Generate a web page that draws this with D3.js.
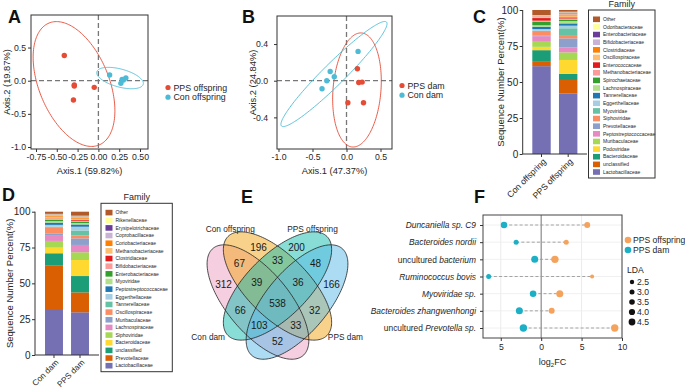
<!DOCTYPE html>
<html>
<head>
<meta charset="utf-8">
<script src="https://cdn.jsdelivr.net/npm/d3@7"></script>
<style>
  body { margin: 0; background: #fff; }
  svg { font-family: "Liberation Sans", Arial, sans-serif; }
</style>
</head>
<body>
<svg id="fig" width="685" height="389"></svg>
<script>
/// data ///

// A: PCoA offspring (Axis.1, Axis.2)
const ppsOffA = [[-0.41, 0.38], [-0.29, -0.065], [-0.29, -0.08], [-0.05, -0.10], [-0.30, -0.29]];
const conOffA = [[0.135, 0.086], [0.27, -0.04], [0.285, 0.02], [0.33, 0.04], [0.30, 0.01]];
// ellipses: centre x, centre y, major axis vector, minor axis vector (data units)
const ellA = [[-0.293, -0.05, 0.30, -0.92, 0.389, 0.20], [0.26, 0.04, 0.279, -0.094, -0.028, -0.131]];

// B: PCoA dams
const ppsDamB = [[0.16, 0.13], [0.18, -0.02], [0.23, -0.015], [0.02, -0.24], [0.25, -0.24]];
const conDamB = [[0.17, 0.32], [-0.24, 0.10], [-0.18, 0.044], [-0.29, 0.0], [-0.36, -0.087]];
const ellB = [[0.154, -0.101, 0.068, 0.622, 0.351, -0.021], [-0.184, 0.073, 0.772, 0.567, 0.113, -0.085]];

// C: family composition, offspring (bottom to top)
const famC = ['Lactobacillaceae', 'unclassified', 'Bacteroidaceae', 'Podoviridae', 'Muribaculaceae',
  'Peptostreptococcaceae', 'Prevotellaceae', 'Siphoviridae', 'Myoviridae', 'Eggerthellaceae',
  'Tannerellaceae', 'Lachnospiraceae', 'Spirochaetaceae', 'Methanobacteriaceae', 'Enterococcaceae',
  'Oscillospiraceae', 'Clostridiaceae', 'Bifidobacteriaceae', 'Enterobacteriaceae', 'Odoribacteraceae', 'Other'];
const samplesC = ['Con offspring', 'PPS offspring'];
const conOffspring = [61, 3.5, 7.6, 2.3, 3.5, 3.9, 0.6, 2.4, 0.8, 1.2, 1.6, 1.0, 2.4, 0.8, 1.8, 0.6, 0.5, 0.4, 0.3, 0.3, 3.5];
const ppsOffspring = [41.9, 9.5, 4.2, 9.7, 5.3, 3.5, 6.2, 2.3, 4.7, 1.8, 1.6, 1.6, 1.0, 0.8, 0.8, 1.2, 0.8, 0.8, 0.6, 0.5, 1.2];

// D: family composition, dams
const famD = ['Lactobacillaceae', 'Prevotellaceae', 'unclassified', 'Bacteroidaceae', 'Siphoviridae',
  'Lachnospiraceae', 'Muribaculaceae', 'Oscillospiraceae', 'Tannerellaceae', 'Eggerthellaceae',
  'Peptostreptococcaceae', 'Myoviridae', 'Enterobacteriaceae', 'Bifidobacteriaceae', 'Clostridiaceae',
  'Methanobacteriaceae', 'Coriobacteriaceae', 'Coprobacillaceae', 'Erysipelotrichaceae', 'Rikenellaceae', 'Other'];
const samplesD = ['Con dam', 'PPS dam'];
const conDam = [31.4, 30.9, 8.7, 3.9, 4.7, 4.1, 1.2, 3.9, 0.8, 1.2, 1.6, 1.0, 1.0, 0.6, 0.3, 1.2, 0.8, 0.4, 0.4, 0.4, 1.5];
const ppsDam = [29.8, 13.9, 11.4, 11.2, 5.4, 5.1, 4.6, 2.0, 3.5, 2.6, 1.6, 1.0, 0.8, 0.8, 0.6, 0.8, 0.6, 0.6, 0.4, 0.5, 2.8];
const pctTicks = [0, 25, 50, 75, 100];

// E: venn
const vennSets = ['Con dam', 'Con offspring', 'PPS offspring', 'PPS dam'];
const vennKeys = ['1000', '0100', '0010', '0001', '1100', '0110', '0011', '1001', '1010', '0101', '1110', '0111', '1011', '1101', '1111'];
const vennCounts = [312, 196, 200, 166, 67, 33, 48, 52, 66, 32, 39, 36, 103, 33, 538];

// F: log2FC / LDA
const species = ['Duncaniella sp. C9', 'Bacteroides nordii', 'uncultured bacterium', 'Ruminococcus bovis',
  'Myoviridae sp.', 'Bacteroides zhangwenhongi', 'uncultured Prevotella sp.'];
const fcOffspring = [5.7, 3.1, 1.7, 6.3, 2.3, 1.3, 9.1];
const fcDam = [-4.6, -3.1, -0.8, -6.5, -1.0, -2.7, -2.2];
const ldaOffspring = [3.8, 3.0, 5.0, 2.2, 4.7, 3.8, 5.0];
const ldaDam = [4.3, 3.0, 4.7, 3.0, 4.3, 4.7, 5.0];
const ldaLegend = [2.5, 3.0, 3.5, 4.0, 4.5];
const fcTicks = [-5, 0, 5, 10];

/// styles ///
const RED = '#e64b35', CYAN = '#4dbbd5';
const ORANGE = '#f5a35c', TEAL = '#1bb0c6';
const INK = '#262626';
const palette = ['#7570b3', '#d95f02', '#1b9e77', '#ffd92f', '#a6d854', '#e78ac3', '#8da0cb', '#fc8d62',
  '#66c2a5', '#a6cee3', '#1f78b4', '#b2df8a', '#33a02c', '#fb9a99', '#e31a1c', '#fdbf6f', '#ff7f00',
  '#cab2d6', '#6a3d9a', '#ffff99', '#b15928'];
const vennFill = ['#eb9fc1', '#f2a516', '#12bbad', '#5ab9e7'];

const svg = d3.select('#fig');

function styleAxis(g, size) {
  g.attr('font-family', null).attr('font-size', size);
  g.select('.domain').remove();
  g.selectAll('line').attr('stroke', '#333');
  g.selectAll('text').attr('fill', INK);
}

function letter(t, x, y) {
  svg.append('text').attr('x', x).attr('y', y).attr('font-size', 18)
    .attr('font-weight', 'bold').attr('fill', '#111').text(t);
}

/// PCoA panels ///
function pcoa(o) {
  const x = d3.scaleLinear().domain(o.xDomain).range([o.left, o.right]);
  const y = d3.scaleLinear().domain(o.yDomain).range([o.bottom, o.top]);
  const g = svg.append('g');

  // dashed zero lines
  g.append('line').attr('x1', x(0)).attr('x2', x(0)).attr('y1', o.top).attr('y2', o.bottom)
    .attr('stroke', '#777').attr('stroke-width', 1.3).attr('stroke-dasharray', '5,3');
  g.append('line').attr('x1', o.left).attr('x2', o.right).attr('y1', y(0)).attr('y2', y(0))
    .attr('stroke', '#777').attr('stroke-width', 1.3).attr('stroke-dasharray', '5,3');

  // confidence ellipses
  const ring = d3.range(0, 2 * Math.PI, Math.PI / 90);
  const line = d3.line().curve(d3.curveLinearClosed);
  o.ellipses.forEach((e, i) => {
    g.append('path')
      .attr('d', line(ring.map(t => [
        x(e[0] + e[2] * Math.cos(t) + e[4] * Math.sin(t)),
        y(e[1] + e[3] * Math.cos(t) + e[5] * Math.sin(t))])))
      .attr('fill', 'none').attr('stroke', o.colors[i]).attr('stroke-width', 0.9);
  });

  // points
  o.groups.forEach((pts, i) => {
    g.append('g').selectAll('circle').data(pts).join('circle')
      .attr('cx', d => x(d[0])).attr('cy', d => y(d[1])).attr('r', 2.7).attr('fill', o.colors[i]);
  });

  g.append('rect').attr('x', o.left).attr('y', o.top)
    .attr('width', o.right - o.left).attr('height', o.bottom - o.top)
    .attr('fill', 'none').attr('stroke', '#333').attr('stroke-width', 1);

  g.append('g').attr('transform', `translate(0,${o.bottom})`)
    .call(d3.axisBottom(x).tickValues(o.xTicks).tickFormat(d => d.toFixed(o.xDec)).tickSize(3).tickPadding(2))
    .call(a => styleAxis(a, 8.7));
  g.append('g').attr('transform', `translate(${o.left},0)`)
    .call(d3.axisLeft(y).tickValues(o.yTicks).tickFormat(d => d.toFixed(1)).tickSize(3).tickPadding(o.yPad))
    .call(a => styleAxis(a, 8.7));

  g.append('text').attr('x', (o.left + o.right) / 2).attr('y', o.bottom + 25)
    .attr('text-anchor', 'middle').attr('font-size', 9.3).attr('fill', INK).text(o.xLabel);
  g.append('text').attr('transform', `translate(${o.yLabelX},${(o.top + o.bottom) / 2}) rotate(-90)`)
    .attr('text-anchor', 'middle').attr('dy', '0.35em').attr('font-size', 9.3).attr('fill', INK).text(o.yLabel);

  // legend
  o.legend.forEach((name, i) => {
    const ly = o.legendY + i * 9.7;
    g.append('circle').attr('cx', o.legendX).attr('cy', ly).attr('r', 2.6).attr('fill', o.colors[i]);
    g.append('text').attr('x', o.legendX + 5.5).attr('y', ly).attr('dy', '0.35em')
      .attr('font-size', 8.8).attr('fill', INK).text(name);
  });
}

pcoa({
  left: 31, right: 148, top: 15, bottom: 149,
  xDomain: [-0.81, 0.596], yDomain: [-1.03, 0.991],
  xTicks: [-0.75, -0.5, -0.25, 0, 0.25, 0.5], xDec: 2, yTicks: [-1, -0.5, 0, 0.5], yPad: 2,
  groups: [ppsOffA, conOffA], ellipses: ellA, colors: [RED, CYAN],
  xLabel: 'Axis.1 (59.82%)', yLabel: 'Axis.2 (19.87%)', yLabelX: 6.5,
  legend: ['PPS offspring', 'Con offspring'], legendX: 168, legendY: 87.5
});
pcoa({
  left: 277, right: 392, top: 16, bottom: 149,
  xDomain: [-1.022, 0.669], yDomain: [-0.745, 0.706],
  xTicks: [-1, -0.5, 0, 0.5], xDec: 1, yTicks: [-0.4, 0, 0.4], yPad: 6,
  groups: [ppsDamB, conDamB], ellipses: ellB, colors: [RED, CYAN],
  xLabel: 'Axis.1 (47.37%)', yLabel: 'Axis.2 (24.84%)', yLabelX: 253,
  legend: ['PPS dam', 'Con dam'], legendX: 402, legendY: 85.5
});

/// stacked bar panels ///
function stacked(o) {
  const y = d3.scaleLinear().domain([0, 100]).range([o.bottom, o.top]);
  const x = d3.scaleBand().domain(o.samples).range([o.axisX, o.axisEnd])
    .paddingInner(0.31).paddingOuter(o.padOuter);
  const rows = o.samples.map((s, i) => {
    const r = { sample: s };
    o.fam.forEach((f, j) => { r[f] = o.values[i][j]; });
    return r;
  });
  const series = d3.stack().keys(o.fam)(rows);
  const g = svg.append('g');

  g.selectAll('g.layer').data(series).join('g').attr('class', 'layer')
    .attr('fill', (d, i) => palette[i])
    .selectAll('rect').data(d => d).join('rect')
    .attr('x', d => x(d.data.sample)).attr('width', x.bandwidth())
    .attr('y', d => y(d[1])).attr('height', d => y(d[0]) - y(d[1]));

  const ya = g.append('g').attr('transform', `translate(${o.axisX},0)`)
    .call(d3.axisLeft(y).tickValues(pctTicks).tickSize(3).tickPadding(1.5))
    .call(a => styleAxis(a, 10));
  ya.append('line').attr('y1', o.top).attr('y2', o.bottom).attr('stroke', '#333');

  const xa = g.append('g').attr('transform', `translate(0,${o.bottom})`)
    .call(d3.axisBottom(x).tickSize(3).tickSizeOuter(0))
    .call(a => styleAxis(a, o.xFont));
  xa.append('line').attr('x1', o.axisX).attr('x2', o.axisEnd).attr('stroke', '#333');
  xa.selectAll('.tick text').attr('x', 0).attr('y', 0).attr('dy', '0.35em')
    .attr('text-anchor', 'end').attr('transform', 'translate(3,6) rotate(-45)');

  g.append('text').attr('transform', `translate(${o.yLabelX},${(o.top + o.bottom) / 2}) rotate(-90)`)
    .attr('text-anchor', 'middle').attr('dy', '0.35em').attr('font-size', 9.5).attr('fill', INK)
    .text('Sequence Number Percent(%)');

  // legend (top = last stacked family)
  const L = o.legend;
  const keys = o.fam.slice().reverse();
  const ly = d3.scalePoint().domain(keys).range([L.y + 9.3, L.y + L.h - 6]);
  g.append('rect').attr('x', L.x).attr('y', L.y).attr('width', L.w).attr('height', L.h)
    .attr('fill', 'none').attr('stroke', '#333').attr('stroke-width', 1);
  g.append('text').attr('x', L.x + L.w / 2).attr('y', L.y - 3).attr('text-anchor', 'middle')
    .attr('font-size', 9).attr('fill', INK).text('Family');
  keys.forEach(k => {
    const ci = o.fam.indexOf(k);
    g.append('rect').attr('x', L.x + 4.5).attr('y', ly(k) - 2.8).attr('width', 7).attr('height', 5.6)
      .attr('fill', palette[ci]);
    g.append('text').attr('x', L.x + 14.5).attr('y', ly(k)).attr('dy', '0.35em')
      .attr('font-size', 5).attr('fill', INK).text(k);
  });
}

stacked({
  fam: famC, samples: samplesC, values: [conOffspring, ppsOffspring],
  axisX: 522.7, axisEnd: 587, padOuter: 0.36, top: 10, bottom: 154, yLabelX: 501, xFont: 8.6,
  legend: { x: 588.5, y: 10, w: 66.5, h: 168 }
});
stacked({
  fam: famD, samples: samplesD, values: [conDam, ppsDam],
  axisX: 35, axisEnd: 99, padOuter: 0.385, top: 211.7, bottom: 355, yLabelX: 10, xFont: 8.2,
  legend: { x: 101, y: 203.3, w: 71.3, h: 168.4 }
});

/// Venn (E) ///
(function venn() {
  // ellipse layout, 1 unit = 70 px; a, b are semi-axes
  const shape = [
    { cx: -0.279, cy: 0.229, a: 1, b: 0.443, rot: 50 },
    { cx: 0, cy: 0, a: 1, b: 0.443, rot: 45 },
    { cx: 0, cy: 0, a: 1, b: 0.443, rot: 135 },
    { cx: 0.279, cy: 0.229, a: 1, b: 0.443, rot: 130 }
  ];
  const unit = d3.scaleLinear().domain([0, 1]).range([0, 70]);
  const ox = 277.5, oy = 286;
  const px = v => ox + unit(v), py = v => oy + unit(v);

  function inside(e, X, Y) {
    const r = e.rot * Math.PI / 180;
    const dx = X - e.cx, dy = Y - e.cy;
    const u = (dx * Math.cos(r) + dy * Math.sin(r)) / e.a;
    const v = (-dx * Math.sin(r) + dy * Math.cos(r)) / e.b;
    return u * u + v * v <= 1;
  }

  const g = svg.append('g');
  const ring = d3.range(0, 2 * Math.PI, Math.PI / 90);
  const line = d3.line().curve(d3.curveLinearClosed);
  const paths = shape.map(e => {
    const r = e.rot * Math.PI / 180;
    return line(ring.map(t => {
      const lx = e.a * Math.cos(t), lyy = e.b * Math.sin(t);
      return [px(e.cx + lx * Math.cos(r) - lyy * Math.sin(r)), py(e.cy + lx * Math.sin(r) + lyy * Math.cos(r))];
    }));
  });
  paths.forEach((d, i) => g.append('path').attr('d', d).attr('fill', vennFill[i]).attr('fill-opacity', 0.5));
  paths.forEach(d => g.append('path').attr('d', d).attr('fill', 'none').attr('stroke', '#222').attr('stroke-width', 0.8));

  // label positions: region centroid, or centre of largest inscribed circle when the centroid is too close to an edge
  const gx0 = 195, gy0 = 220, GW = 170, GH = 150;
  const cell = new Array(GW * GH);
  for (let j = 0; j < GH; j++) for (let i = 0; i < GW; i++) {
    const X = unit.invert(gx0 + i + 0.5 - ox), Y = unit.invert(gy0 + j + 0.5 - oy);
    cell[j * GW + i] = shape.map(e => inside(e, X, Y) ? '1' : '0').join('');
  }
  function labelAt(key) {
    const d = new Float32Array(GW * GH);
    let sx = 0, sy = 0, n = 0;
    for (let k = 0; k < d.length; k++) {
      d[k] = cell[k] === key ? 1e6 : 0;
      if (d[k]) { sx += k % GW; sy += Math.floor(k / GW); n++; }
    }
    const S = Math.SQRT2;
    for (let j = 0; j < GH; j++) for (let i = 0; i < GW; i++) {
      const k = j * GW + i; if (!d[k]) continue;
      let m = d[k];
      m = Math.min(m, i > 0 ? d[k - 1] + 1 : 1);
      if (j > 0) {
        m = Math.min(m, d[k - GW] + 1);
        if (i > 0) m = Math.min(m, d[k - GW - 1] + S);
        if (i < GW - 1) m = Math.min(m, d[k - GW + 1] + S);
      } else m = Math.min(m, 1);
      d[k] = m;
    }
    let best = -1, bi = 0, bj = 0;
    for (let j = GH - 1; j >= 0; j--) for (let i = GW - 1; i >= 0; i--) {
      const k = j * GW + i; if (!d[k]) continue;
      let m = d[k];
      m = Math.min(m, i < GW - 1 ? d[k + 1] + 1 : 1);
      if (j < GH - 1) {
        m = Math.min(m, d[k + GW] + 1);
        if (i < GW - 1) m = Math.min(m, d[k + GW + 1] + S);
        if (i > 0) m = Math.min(m, d[k + GW - 1] + S);
      } else m = Math.min(m, 1);
      d[k] = m;
      if (m > best) { best = m; bi = i; bj = j; }
    }
    const ci = Math.round(sx / n), cj = Math.round(sy / n);
    if (d[cj * GW + ci] >= 6) { bi = sx / n; bj = sy / n; }
    return [gx0 + bi + 0.5, gy0 + bj + 0.5];
  }

  vennKeys.forEach((k, i) => {
    const p = labelAt(k);
    g.append('text').attr('x', p[0]).attr('y', p[1]).attr('dy', '0.35em').attr('text-anchor', 'middle')
      .attr('font-size', 10).attr('fill', '#1a1a1a').text(vennCounts[i]);
  });

  // set names
  const namePos = [[-0.99, 0.73], [-0.675, -0.81], [0.5, -0.81], [0.97, 0.73]];
  vennSets.forEach((s, i) => {
    g.append('text').attr('x', px(namePos[i][0])).attr('y', py(namePos[i][1])).attr('dy', '0.35em')
      .attr('text-anchor', 'middle').attr('font-size', 8.3).attr('fill', INK).text(s);
  });
})();

/// F: log2FC dot plot ///
(function lefse() {
  const x = d3.scaleLinear().domain([-7.2, 10]).range([483, 622]);
  const y = d3.scalePoint().domain(species).range([225, 328]);
  const r = d3.scaleLinear().domain([2.5, 4.5]).range([2.2, 3.4]);
  const top = 215, bottom = 338, left = 483, right = 622;
  const g = svg.append('g');

  g.selectAll('line.vg').data(fcTicks.filter(d => d !== 0)).join('line').attr('class', 'vg')
    .attr('x1', d => x(d)).attr('x2', d => x(d)).attr('y1', top).attr('y2', bottom)
    .attr('stroke', '#e6e6e6').attr('stroke-width', 0.8);
  g.selectAll('line.hg').data(species).join('line').attr('class', 'hg')
    .attr('x1', left).attr('x2', right).attr('y1', d => y(d)).attr('y2', d => y(d))
    .attr('stroke', '#ececec').attr('stroke-width', 0.8);
  g.append('line').attr('x1', x(0)).attr('x2', x(0)).attr('y1', top).attr('y2', bottom)
    .attr('stroke', '#8a8a8a').attr('stroke-width', 1.2);

  species.forEach((s, i) => {
    g.append('line').attr('x1', x(fcDam[i])).attr('x2', x(fcOffspring[i]))
      .attr('y1', y(s)).attr('y2', y(s))
      .attr('stroke', '#9a9a9a').attr('stroke-width', 0.9).attr('stroke-dasharray', '3,2.2');
  });
  species.forEach((s, i) => {
    g.append('circle').attr('cx', x(fcOffspring[i])).attr('cy', y(s)).attr('r', r(ldaOffspring[i])).attr('fill', ORANGE);
    g.append('circle').attr('cx', x(fcDam[i])).attr('cy', y(s)).attr('r', r(ldaDam[i])).attr('fill', TEAL);
  });

  g.append('rect').attr('x', left).attr('y', top).attr('width', right - left).attr('height', bottom - top)
    .attr('fill', 'none').attr('stroke', '#444').attr('stroke-width', 1);

  g.append('g').attr('transform', `translate(0,${bottom})`)
    .call(d3.axisBottom(x).tickValues(fcTicks).tickFormat(d => Math.abs(d)).tickSize(3).tickPadding(2.5))
    .call(a => styleAxis(a, 8.6));

  const ya = g.append('g').attr('transform', `translate(${left},0)`)
    .call(d3.axisLeft(y).tickSize(3).tickPadding(4))
    .call(a => styleAxis(a, 8.4));
  ya.selectAll('.tick text').each(function (d) {
    const t = d3.select(this).text(null);
    if (d.startsWith('uncultured ')) {
      t.append('tspan').text('uncultured ');
      t.append('tspan').attr('font-style', 'italic').text(d.slice(11));
    } else {
      t.append('tspan').attr('font-style', 'italic').text(d);
    }
  });

  g.append('text').attr('x', (left + right) / 2).attr('y', 365).attr('text-anchor', 'middle')
    .attr('font-size', 9).attr('fill', INK)
    .call(t => { t.append('tspan').text('log'); t.append('tspan').attr('font-size', 6).attr('dy', 2).text('2');
      t.append('tspan').attr('dy', -2).text('FC'); });

  // legends
  [['PPS offspring', ORANGE], ['PPS dam', TEAL]].forEach((d, i) => {
    g.append('circle').attr('cx', 628).attr('cy', 240 + i * 10).attr('r', 3.3).attr('fill', d[1]);
    g.append('text').attr('x', 633).attr('y', 240 + i * 10).attr('dy', '0.35em')
      .attr('font-size', 8.6).attr('fill', INK).text(d[0]);
  });
  g.append('text').attr('x', 627).attr('y', 270).attr('dy', '0.35em').attr('font-size', 8.6)
    .attr('fill', INK).text('LDA');
  ldaLegend.forEach((v, i) => {
    g.append('circle').attr('cx', 632).attr('cy', 282 + i * 10).attr('r', r(v)).attr('fill', '#111');
    g.append('text').attr('x', 637).attr('y', 282 + i * 10).attr('dy', '0.35em')
      .attr('font-size', 8.6).attr('fill', INK).text(v.toFixed(1));
  });
})();

letter('A', 8, 23);
letter('B', 242, 23);
letter('C', 473, 23);
letter('D', 2, 201);
letter('E', 241, 203);
letter('F', 474, 203);
</script>
</body>
</html>
